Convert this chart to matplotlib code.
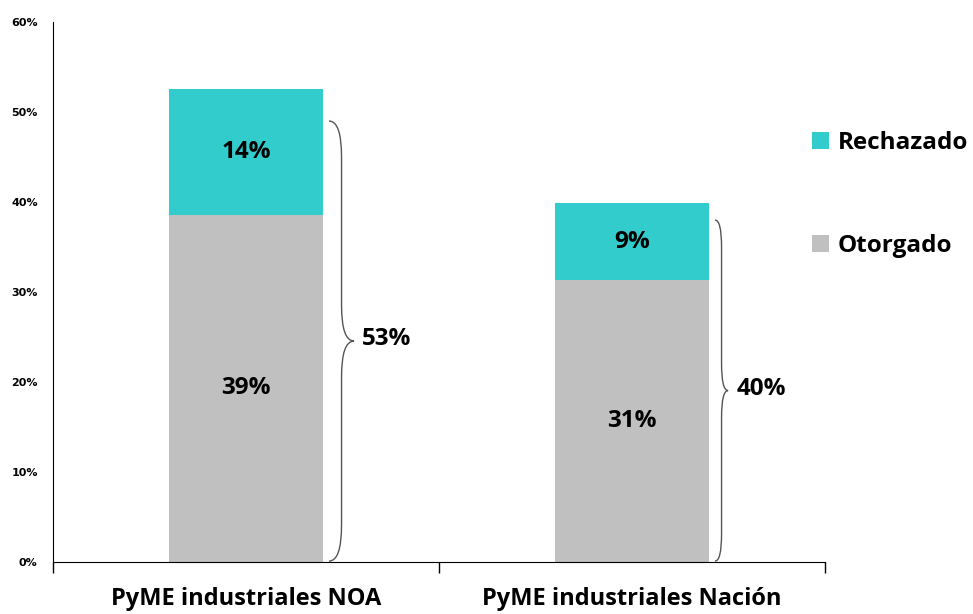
import matplotlib
matplotlib.use("Agg")
import matplotlib.pyplot as plt
from matplotlib.path import Path
from matplotlib.patches import PathPatch

categorias = ["PyME industriales NOA", "PyME industriales Nación"]
otorgado = [38.6, 31.3]
rechazado = [14.0, 8.6]
yticks = [0, 10, 20, 30, 40, 50, 60]

gris = "#C0C0C0"
turquesa = "#33CCCC"
fuente = "Open Sans"


def llave(ax, x, y0, y1, w, d):
    # llave "}" dibujada con curvas cuadraticas
    ym = (y0 + y1) / 2
    xm = x + w / 2
    verts = [(x, y1), (xm, y1), (xm, y1 - d),
             (xm, ym + d), (xm, ym), (x + w, ym),
             (xm, ym), (xm, ym - d),
             (xm, y0 + d), (xm, y0), (x, y0)]
    codes = [Path.MOVETO, Path.CURVE3, Path.CURVE3,
             Path.LINETO, Path.CURVE3, Path.CURVE3,
             Path.CURVE3, Path.CURVE3,
             Path.LINETO, Path.CURVE3, Path.CURVE3]
    ax.add_patch(PathPatch(Path(verts, codes), fill=False, ec="#555555", lw=1.0))


fig = plt.figure(figsize=(9.73, 6.14), dpi=100)
ax = fig.add_axes([53 / 973, 1 - 562 / 614, 772 / 973, 540 / 614])

x = list(range(len(categorias)))
b1 = ax.bar(x, otorgado, width=0.4, color=gris, label="Otorgado")
b2 = ax.bar(x, rechazado, width=0.4, bottom=otorgado, color=turquesa, label="Rechazado")

for i in x:
    ax.text(i, otorgado[i] / 2, "%d%%" % round(otorgado[i]), ha="center", va="center",
            fontsize=17.5, fontweight="bold", family=fuente)
    ax.text(i, otorgado[i] + rechazado[i] / 2, "%d%%" % round(rechazado[i]), ha="center",
            va="center", fontsize=17.5, fontweight="bold", family=fuente)

# llaves con el total
llave(ax, 0.215, 0.1, 49.0, 0.065, 4.0)
ax.text(0.30, 24.8, "%d%%" % round(otorgado[0] + rechazado[0]), ha="left", va="center",
        fontsize=17.5, fontweight="bold", family=fuente)
llave(ax, 1.215, 0.1, 38.0, 0.034, 3.0)
ax.text(1.272, 19.2, "%d%%" % round(otorgado[1] + rechazado[1]), ha="left", va="center",
        fontsize=17.5, fontweight="bold", family=fuente)

ax.set_xlim(-0.5, 1.5)
ax.set_ylim(0, 60)
ax.set_yticks(yticks)
ax.set_yticklabels(["%d%%" % v for v in yticks], fontsize=8, fontweight="bold")
ax.tick_params(axis="y", length=0, pad=11)
ax.set_xticks(x)
ax.set_xticklabels(categorias, fontsize=17, fontweight="bold", family=fuente)
ax.tick_params(axis="x", length=0, pad=18)
ax.set_xticks([-0.5, 0.5, 1.5], minor=True)
ax.tick_params(axis="x", which="minor", length=8, width=1)
for s in ["top", "right"]:
    ax.spines[s].set_visible(False)

fig.legend([b2, b1], ["Rechazado", "Otorgado"], loc="center left",
           bbox_to_anchor=(0.822, 0.683), frameon=False, labelspacing=3.25,
           handlelength=0.7, handleheight=0.7, handletextpad=0.35, borderpad=0,
           prop={"family": fuente, "weight": "bold", "size": 17.5})

fig.savefig("out.png", dpi=100)
